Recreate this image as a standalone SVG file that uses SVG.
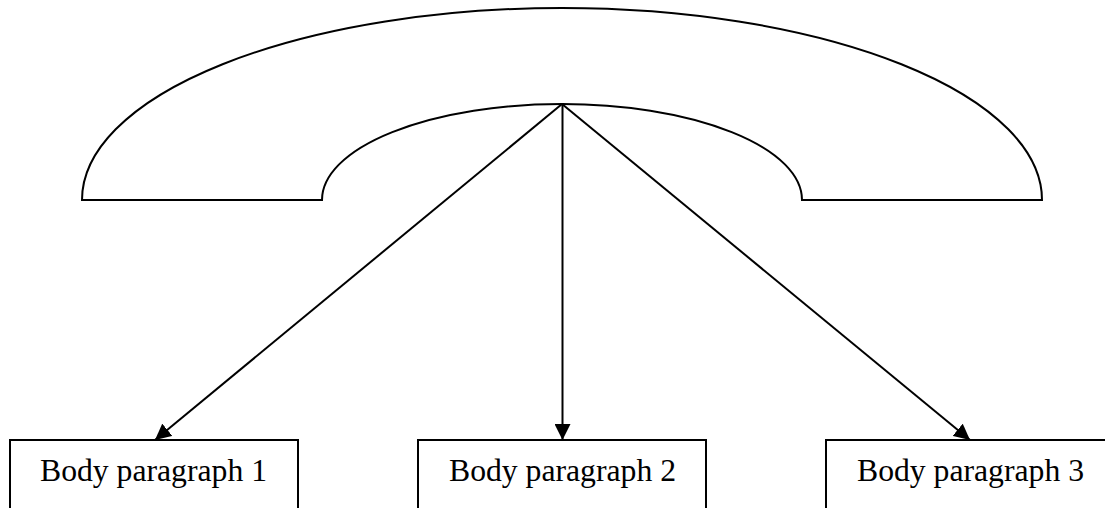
<svg xmlns="http://www.w3.org/2000/svg" width="1105" height="508" viewBox="0 0 1105 508">
<style>
.s{fill:#fff;stroke:#000;stroke-width:2}
.c{fill:none;stroke:#000;stroke-width:2}
.t{font-family:"Liberation Serif","Times New Roman",serif;font-size:31.7px;fill:#000}
</style>
<defs><marker id="a" markerUnits="userSpaceOnUse" markerWidth="16" markerHeight="16" refX="16" refY="8" orient="auto"><path d="M0 0L16 8L0 16Z" fill="#000"/></marker></defs>
<rect width="1105" height="508" fill="#fff"/>
<g id="arc"><path class="s" d="M82 200A480 192 0 0 1 1042 200H802A240 96 0 0 0 322 200Z"/></g>
<g id="box1"><rect class="s" x="10" y="440" width="288" height="80"/><text class="t" x="40" y="481">Body paragraph 1</text></g>
<g id="box2"><rect class="s" x="418" y="440" width="288" height="80"/><text class="t" x="449" y="481">Body paragraph 2</text></g>
<g id="box3"><rect class="s" x="826" y="440" width="288" height="80"/><text class="t" x="857" y="481">Body paragraph 3</text></g>
<g id="connectors">
<line class="c" x1="562" y1="104" x2="155" y2="440" marker-end="url(#a)"/>
<line class="c" x1="562.5" y1="104" x2="562.5" y2="440" marker-end="url(#a)"/>
<line class="c" x1="562" y1="104" x2="970" y2="440" marker-end="url(#a)"/>
</g>
</svg>
